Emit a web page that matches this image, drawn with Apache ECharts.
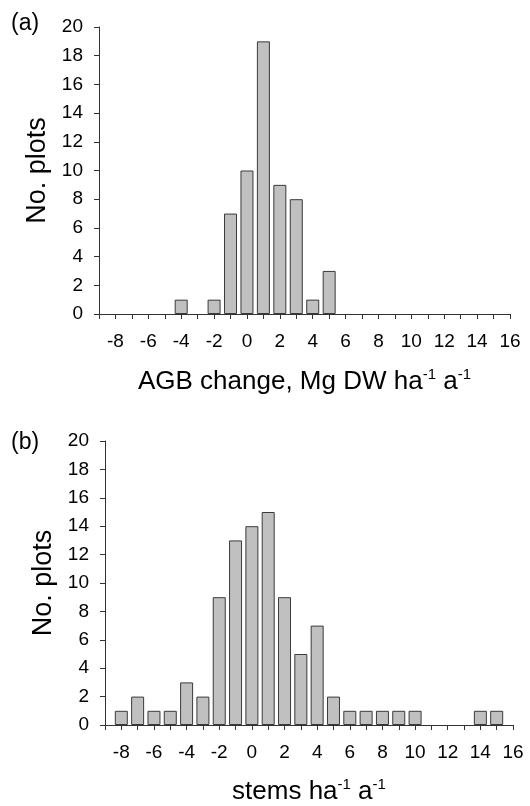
<!DOCTYPE html>
<html>
<head>
<meta charset="utf-8">
<script src="https://cdn.jsdelivr.net/npm/echarts@6/dist/echarts.min.js"></script>
<style>
  html, body { margin: 0; padding: 0; background: #fff; }
  #chart { width: 530px; height: 806px; }
</style>
</head>
<body>
<div id="chart"></div>
<script>
// bins (bar centres), same for both panels
const bins = [-8, -7, -6, -5, -4, -3, -2, -1, 0, 1, 2, 3, 4, 5, 6, 7, 8, 9, 10, 11, 12, 13, 14, 15, 16];
// (a) AGB change
const countsAGB = [0, 0, 0, 0, 1, 0, 1, 7, 10, 19, 9, 8, 1, 3, 0, 0, 0, 0, 0, 0, 0, 0, 0, 0, 0];
// (b) stems
const countsStems = [1, 2, 1, 1, 3, 2, 9, 13, 14, 15, 9, 5, 7, 2, 1, 1, 1, 1, 1, 0, 0, 0, 1, 1, 0];

const panelLabels = ['(a)', '(b)'];
const yTitle = 'No. plots';

const font = 'Liberation Sans, Arial, sans-serif';
const axisColor = '#333';

const chart = echarts.init(document.getElementById('chart'));

function xAxis(gridIndex, name, gap) {
    return {
        type: 'value',
        gridIndex: gridIndex,
        min: -9,
        max: 16,
        interval: 1,
        splitLine: { show: false },
        axisLine: { show: true, onZero: false, lineStyle: { color: axisColor, width: 1 } },
        axisTick: { show: true, length: 5, lineStyle: { color: axisColor } },
        axisLabel: {
            margin: 18,
            fontSize: 19,
            color: '#000',
            fontFamily: font,
            formatter: v => (v % 2 === 0 ? String(v) : '')
        },
        name: name,
        nameLocation: 'middle',
        nameGap: gap,
        nameTextStyle: {
            rich: {
                t: { fontSize: 26, fontFamily: font, color: '#000', lineHeight: 30 },
                s: { fontSize: 15, fontFamily: font, color: '#000', lineHeight: 18, verticalAlign: 'top' }
            }
        }
    };
}

function yAxis(gridIndex) {
    return {
        type: 'value',
        gridIndex: gridIndex,
        min: 0,
        max: 20,
        interval: 2,
        splitLine: { show: false },
        axisLine: { show: true, onZero: false, lineStyle: { color: axisColor, width: 1 } },
        axisTick: { show: true, length: 5, lineStyle: { color: axisColor } },
        axisLabel: { margin: 16, fontSize: 19, color: '#000', fontFamily: font },
        name: yTitle,
        nameLocation: 'middle',
        nameGap: 48,
        nameRotate: 90,
        nameTextStyle: { fontSize: 27, color: '#000', fontFamily: font }
    };
}

function barSeries(idx, counts) {
    return {
        type: 'bar',
        xAxisIndex: idx,
        yAxisIndex: idx,
        barWidth: 13,
        itemStyle: { color: '#c0c0c0', borderColor: '#3a3a3a', borderWidth: 1 },
        // empty bins get no outline so nothing shows on the axis
        data: bins.map((b, i) => counts[i] > 0
            ? [b, counts[i]]
            : { value: [b, counts[i]], itemStyle: { borderWidth: 0, opacity: 0 } }),
        silent: true
    };
}

const option = {
    animation: false,
    backgroundColor: '#fff',
    title: [
        { text: panelLabels[0], left: 11, top: 12, padding: 0,
          textStyle: { fontSize: 23, fontWeight: 'normal', color: '#000', fontFamily: font } },
        { text: panelLabels[1], left: 11, top: 431, padding: 0,
          textStyle: { fontSize: 23, fontWeight: 'normal', color: '#000', fontFamily: font } }
    ],
    grid: [
        { left: 99, right: 20, top: 27, height: 287 },
        { left: 105, right: 17, top: 441, height: 286 }
    ],
    xAxis: [
        xAxis(0, '{t|AGB change, Mg DW ha}{s|-1}{t| a}{s|-1}', 53),
        xAxis(1, '{t|stems ha}{s|-1}{t| a}{s|-1}', 52)
    ],
    yAxis: [yAxis(0), yAxis(1)],
    series: [barSeries(0, countsAGB), barSeries(1, countsStems)]
};

chart.setOption(option);
</script>
</body>
</html>
